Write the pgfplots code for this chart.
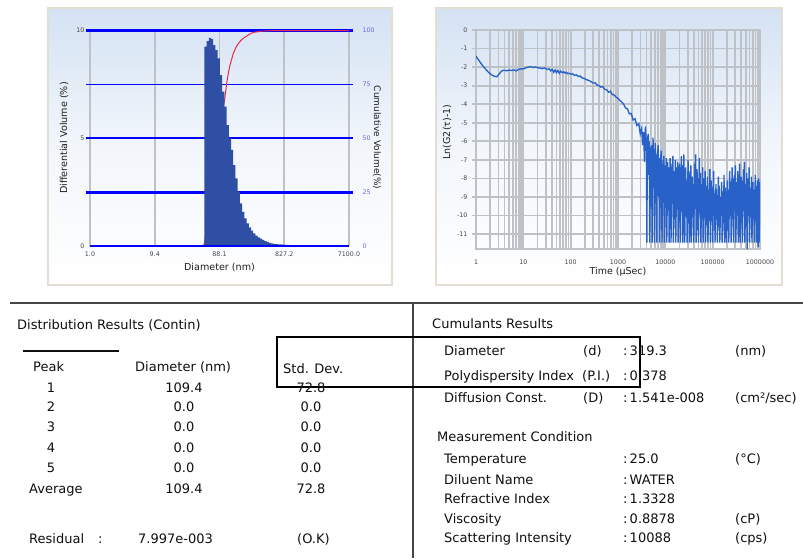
\documentclass[border=0pt]{standalone}
\usepackage{fontspec}
\setmainfont{DejaVu Sans}
\usepackage{pgfplots}
\pgfplotsset{compat=1.18}
\definecolor{barblue}{RGB}{47,79,165}
\definecolor{gridblue}{RGB}{0,0,255}
\definecolor{cumred}{RGB}{232,40,70}
\definecolor{lineblue}{RGB}{40,98,200}
\definecolor{gridgray}{RGB}{190,194,199}
\definecolor{framebg}{RGB}{212,226,243}
\definecolor{frameborder}{RGB}{226,223,210}
\definecolor{ticklab}{RGB}{70,70,70}
\definecolor{ticklabp}{RGB}{110,100,240}
\definecolor{labdark}{RGB}{30,30,30}
\definecolor{textdark}{RGB}{15,15,15}
\definecolor{sepgray}{RGB}{70,70,70}
\tikzset{t/.style={anchor=base west, inner sep=0pt, font=\fontsize{13}{15}\selectfont, text=textdark},
 tc/.style={anchor=base, inner sep=0pt, font=\fontsize{13}{15}\selectfont, text=textdark}}
\begin{document}
\begin{tikzpicture}[x=1pt,y=1pt]
\useasboundingbox (0,0) rectangle (803,558);
% frames
\shade[top color=framebg, bottom color=white, middle color=framebg!30!white] (48,273) rectangle (392,550);
\draw[frameborder, line width=2pt] (48,273) rectangle (392,550);
\shade[top color=framebg, bottom color=white, middle color=framebg!30!white] (436,273) rectangle (782,550);
\draw[frameborder, line width=2pt] (436,273) rectangle (782,550);

% ---------- left chart: grid + blue lines
\begin{axis}[at={(90pt,312pt)}, anchor=south west, scale only axis, width=259pt, height=215.3pt,
 xmin=0, xmax=4, ymin=0, ymax=10, clip=false,
 axis line style={draw=none}, tick style={draw=none},
 xtick={0,1,2,3,4}, xticklabels={1.0,9.4,88.1,827.2,7100.0}, ytick={0,5,10},
 xmajorgrids, major grid style={gridgray, line width=1.8pt},
 tick label style={font=\fontsize{6.3}{7}\selectfont, text=ticklab},
 xticklabel style={yshift=-2.5pt}, yticklabel style={xshift=-2pt},
 /pgf/number format/assume math mode=true,
 xlabel={Diameter (nm)}, ylabel={Differential Volume (\%)},
 label style={font=\fontsize{9.6}{11}\selectfont, text=labdark},
 xlabel style={at={(axis description cs:0.5,-0.0976)}, anchor=center},
 ylabel style={at={(axis description cs:-0.1004,0.5016)}, anchor=center}]
\draw[gridblue, line width=3.2pt] (axis cs:-0.06,10) -- (axis cs:4.06,10);
\draw[gridblue, line width=1.8pt] (axis cs:-0.06,7.5) -- (axis cs:4.06,7.5);
\draw[gridblue, line width=1.8pt] (axis cs:-0.06,5) -- (axis cs:4.06,5);
\draw[gridblue, line width=3.2pt] (axis cs:-0.06,2.5) -- (axis cs:4.06,2.5);
\end{axis}

% ---------- cumulative (right scale)
\begin{axis}[at={(90pt,312pt)}, anchor=south west, scale only axis, width=259pt, height=215.3pt,
 xmin=0, xmax=4, ymin=0, ymax=100, clip=false,
 hide x axis, axis y line*=right, axis line style={draw=none}, tick style={draw=none},
 ytick={0,25,50,75,100},
 yticklabel style={font=\fontsize{6.3}{7}\selectfont, text=ticklabp, xshift=10pt},
 /pgf/number format/assume math mode=true,
 ylabel={Cumulative Volume(\%)},
 ylabel style={font=\fontsize{9}{11}\selectfont, text=labdark, at={(axis description cs:1.108,0.504)}, anchor=center, rotate=180}]
\addplot[cumred, line width=1pt] coordinates {
(1.735,0) (1.765,0.8) (1.80,9) (1.827,15) (1.86,24) (1.905,35) (1.94,44) (1.982,52)
(2.01,57) (2.044,62) (2.075,67) (2.111,75.5) (2.135,80) (2.162,84) (2.19,87) (2.214,89.5)
(2.25,92) (2.291,94) (2.34,95.8) (2.394,97) (2.46,98.3) (2.522,99.2) (2.651,99.8) (2.80,100) (4,100)};
\end{axis}

% ---------- bars
\begin{axis}[at={(90pt,312pt)}, anchor=south west, scale only axis, width=259pt, height=215.3pt,
 xmin=0, xmax=4, ymin=0, ymax=10, hide axis, clip=false]
\addplot[fill=barblue, draw=none, const plot mark left] coordinates {
(1.7658,9.26) (1.8001,9.52) (1.8345,9.67) (1.8688,9.61) (1.9031,9.33) (1.9375,9.10)
(1.9718,8.72) (2.0061,7.94) (2.0404,7.17) (2.0748,6.47) (2.1091,5.62) (2.1434,5.00)
(2.1778,4.46) (2.2121,3.76) (2.2464,3.14) (2.2807,2.52) (2.3151,1.98) (2.3494,1.59)
(2.3837,1.28) (2.4181,1.05) (2.4524,0.87) (2.4867,0.71) (2.5210,0.59) (2.5554,0.48)
(2.5897,0.40) (2.6240,0.34) (2.6584,0.28) (2.6927,0.23) (2.7270,0.19) (2.7613,0.15)
(2.7957,0.12) (2.8300,0.10) (2.8643,0.09) (2.8987,0.08) (2.9330,0.07) (2.9673,0.06)
(3.0016,0.05) (3.0360,0.05) (3.0703,0.04) (3.1046,0.04) (3.1389,0.04)} \closedcycle;
\draw[gridblue, line width=1.4pt] (axis cs:0,0) -- (axis cs:4,0);
\end{axis}

% ---------- right chart
\begin{axis}[at={(476pt,309pt)}, anchor=south west, scale only axis, width=284pt, height=219pt,
 xmin=0, xmax=6, ymin=-11.8, ymax=0,
 xtick={0,1,2,3,4,5,6}, xticklabels={1,10,100,1000,10000,100000,1000000},
 minor xtick={0.301,0.477,0.602,0.699,0.778,0.845,0.903,0.954,
 1.301,1.477,1.602,1.699,1.778,1.845,1.903,1.954,
 2.301,2.477,2.602,2.699,2.778,2.845,2.903,2.954,
 3.301,3.477,3.602,3.699,3.778,3.845,3.903,3.954,
 4.301,4.477,4.602,4.699,4.778,4.845,4.903,4.954,
 5.301,5.477,5.602,5.699,5.778,5.845,5.903,5.954},
 ytick={-11,-10,-9,-8,-7,-6,-5,-4,-3,-2,-1,0},
 grid=both, major grid style={gridgray, line width=1.8pt}, minor grid style={gridgray, line width=1.8pt},
 axis line style={gridgray, line width=1.8pt},
 xtick style={draw=none}, minor tick length=0pt, ytick style={gridgray, line width=1.8pt},
 tick align=outside, major tick length=4pt, ytick pos=left, xtick pos=bottom,
 tick label style={font=\fontsize{6.3}{7}\selectfont, text=ticklab},
 xticklabel style={yshift=-3pt}, yticklabel style={xshift=-1pt},
 /pgf/number format/assume math mode=true,
 xlabel={Time (μSec)}, ylabel={Ln(G2(τ)-1)},
 label style={font=\fontsize{9.5}{11}\selectfont, text=labdark},
 xlabel style={at={(axis description cs:0.5,-0.105)}, anchor=center},
 ylabel style={at={(axis description cs:-0.102,0.534)}, anchor=center}]
\addplot[lineblue, line width=1.35pt] coordinates {
(0.000,-1.42) (0.05,-1.60) (0.10,-1.78) (0.15,-1.95) (0.20,-2.10) (0.25,-2.24) (0.30,-2.36)
(0.35,-2.45) (0.40,-2.50) (0.44,-2.52) (0.48,-2.40) (0.52,-2.27) (0.56,-2.18) (0.60,-2.17)
(0.65,-2.20) (0.70,-2.16) (0.75,-2.18) (0.80,-2.15) (0.85,-2.20) (0.90,-2.12) (0.95,-2.09)
(1.00,-2.10) (1.05,-2.04) (1.10,-2.00) (1.15,-1.97) (1.20,-2.02) (1.25,-1.99) (1.30,-2.03)
(1.35,-2.05) (1.40,-2.08) (1.45,-2.04) (1.50,-2.12) (1.55,-2.10) (1.58,-2.20) (1.61,-2.12)
(1.64,-2.28) (1.67,-2.15) (1.70,-2.30) (1.73,-2.18) (1.76,-2.33) (1.79,-2.22) (1.82,-2.30)
(1.85,-2.25) (1.88,-2.32) (1.91,-2.28) (1.94,-2.36) (1.97,-2.33) (2.00,-2.38) (2.04,-2.36)
(2.08,-2.44) (2.12,-2.42) (2.16,-2.50) (2.20,-2.48) (2.24,-2.58) (2.28,-2.60) (2.32,-2.66)
(2.36,-2.70) (2.40,-2.74) (2.44,-2.80) (2.48,-2.86) (2.52,-2.85) (2.56,-2.97) (2.60,-3.00)
(2.64,-3.08) (2.68,-3.05) (2.72,-3.20) (2.76,-3.22) (2.80,-3.35) (2.84,-3.30) (2.88,-3.48)
(2.92,-3.50) (2.96,-3.62) (3.00,-3.68) (3.04,-3.80) (3.08,-3.88) (3.12,-4.00) (3.16,-4.20)
(3.20,-4.25) (3.24,-4.52) (3.28,-4.50) (3.32,-4.85) (3.36,-4.78) (3.40,-5.15) (3.44,-5.05)
(3.47,-5.60) (3.50,-5.30) (3.52,-6.20) (3.54,-5.50) (3.56,-7.10) (3.58,-5.20) (3.60,-6.30)
(3.61,-11.45) (3.62,-5.90) (3.64,-5.60) (3.65,-7.80) (3.66,-6.00) (3.67,-11.45) (3.69,-6.30)
(3.70,-8.00) (3.71,-6.20) (3.72,-11.45) (3.74,-5.80) (3.75,-7.20) (3.76,-6.40) (3.77,-11.45)
(3.79,-6.10) (3.80,-7.90) (3.81,-6.70) (3.82,-11.45) (3.83,-6.80) (3.85,-6.20) (3.86,-9.00)
(3.87,-6.90) (3.88,-11.45) (3.90,-7.20) (3.91,-6.50) (3.92,-8.50) (3.93,-11.45) (3.95,-7.00)
(3.96,-7.80) (3.97,-6.80) (3.98,-11.45) (4.00,-7.30) (4.01,-8.80) (4.02,-6.90) (4.03,-11.45)
(4.05,-7.10) (4.06,-9.50) (4.07,-7.40) (4.08,-11.45) (4.10,-6.90) (4.11,-7.80) (4.12,-11.45)
(4.14,-7.20) (4.15,-9.20) (4.16,-6.80) (4.17,-11.45) (4.19,-7.60) (4.20,-10.20) (4.21,-7.00)
(4.22,-11.45) (4.24,-7.40) (4.25,-8.90) (4.26,-7.10) (4.27,-11.45) (4.29,-7.80) (4.30,-7.20)
(4.31,-9.80) (4.32,-11.45) (4.34,-6.80) (4.35,-8.40) (4.36,-7.30) (4.37,-11.45) (4.39,-6.70)
(4.40,-8.10) (4.41,-11.45) (4.43,-7.40) (4.44,-9.60) (4.45,-8.10) (4.46,-11.45) (4.48,-7.00)
(4.49,-10.40) (4.50,-7.60) (4.51,-11.45) (4.53,-8.20) (4.54,-7.30) (4.55,-11.45) (4.57,-7.90)
(4.58,-10.10) (4.59,-8.30) (4.60,-11.45) (4.62,-7.20) (4.63,-9.40) (4.64,-6.70) (4.65,-11.45)
(4.67,-7.50) (4.68,-10.80) (4.69,-8.00) (4.70,-11.45) (4.72,-6.90) (4.73,-9.90) (4.74,-7.70)
(4.75,-11.45) (4.77,-8.30) (4.78,-10.20) (4.79,-7.40) (4.80,-11.45) (4.82,-8.00) (4.83,-9.70)
(4.84,-7.60) (4.85,-11.45) (4.87,-8.40) (4.88,-10.50) (4.89,-7.90) (4.90,-11.45) (4.92,-8.60)
(4.93,-9.90) (4.94,-7.50) (4.95,-11.45) (4.97,-8.10) (4.98,-10.30) (4.99,-8.50) (5.00,-11.45)
(5.02,-7.60) (5.03,-10.00) (5.04,-8.80) (5.05,-11.45) (5.07,-8.30) (5.08,-9.80) (5.09,-8.90)
(5.10,-11.45) (5.12,-7.90) (5.13,-10.60) (5.14,-8.40) (5.15,-11.45) (5.17,-9.00) (5.18,-10.00)
(5.19,-8.20) (5.20,-11.45) (5.22,-8.70) (5.23,-10.40) (5.24,-7.80) (5.25,-11.45) (5.27,-8.50)
(5.28,-9.90) (5.29,-11.45) (5.31,-8.10) (5.32,-10.80) (5.33,-8.60) (5.34,-11.45) (5.36,-7.60)
(5.37,-9.50) (5.38,-8.20) (5.39,-11.45) (5.41,-7.40) (5.42,-10.20) (5.43,-8.00) (5.44,-11.45)
(5.46,-7.80) (5.47,-9.30) (5.48,-7.30) (5.49,-11.45) (5.51,-8.20) (5.52,-10.00) (5.53,-7.60)
(5.54,-11.45) (5.56,-8.40) (5.57,-7.20) (5.58,-11.45) (5.60,-7.90) (5.61,-10.40) (5.62,-8.10)
(5.63,-11.45) (5.65,-7.50) (5.66,-9.60) (5.67,-7.10) (5.68,-11.45) (5.70,-8.30) (5.71,-10.60)
(5.72,-7.70) (5.73,-11.80) (5.75,-8.00) (5.76,-9.80) (5.77,-7.40) (5.78,-11.45) (5.80,-8.50)
(5.81,-10.10) (5.82,-7.90) (5.83,-11.45) (5.85,-8.20) (5.86,-9.70) (5.87,-8.60) (5.88,-11.45)
(5.90,-7.80) (5.91,-10.30) (5.92,-8.40) (5.93,-11.45) (5.95,-8.10) (5.96,-11.70) (5.97,-8.00)
(5.98,-11.45) (6.00,-8.20)};
\end{axis}

% ---------- separators and box
\draw[sepgray, line width=1.8pt] (10,255) -- (803,255);
\draw[sepgray, line width=1.8pt] (413,255) -- (413,0);
\draw[textdark, line width=1.2pt] (23,207) -- (119,207);
\draw[black, line width=1.8pt] (277,221) rectangle (640,171);

% ---------- left text
\node[t] at (17,228.5) {Distribution Results (Contin)};
\node[t] at (33,186.5) {Peak};
\node[t] at (135,186.5) {Diameter (nm)};
\node[t] at (283,184.5) {Std. Dev.};
\node[tc] at (51,165.5) {1};
\node[tc] at (51,146.5) {2};
\node[tc] at (51,126.5) {3};
\node[tc] at (51,105.5) {4};
\node[tc] at (51,85.5) {5};
\node[t] at (29,64.5) {Average};
\node[tc] at (184,165.5) {109.4};
\node[tc] at (184,146.5) {0.0};
\node[tc] at (184,126.5) {0.0};
\node[tc] at (184,105.5) {0.0};
\node[tc] at (184,85.5) {0.0};
\node[tc] at (184,64.5) {109.4};
\node[tc] at (311,165.5) {72.8};
\node[tc] at (311,146.5) {0.0};
\node[tc] at (311,126.5) {0.0};
\node[tc] at (311,105.5) {0.0};
\node[tc] at (311,85.5) {0.0};
\node[tc] at (311,64.5) {72.8};
\node[t] at (29,14.5) {Residual};
\node[t] at (98,14.5) {:};
\node[t] at (138,14.5) {7.997e-003};
\node[t] at (297,14.5) {(O.K)};

% ---------- right text
\node[t] at (432,229.5) {Cumulants Results};
\node[t] at (444,202.5) {Diameter};
\node[t] at (583,202.5) {(d)};
\node[t] at (623,202.5) {:\,319.3};
\node[t] at (735,202.5) {(nm)};
\node[t] at (444,177.5) {Polydispersity Index};
\node[t] at (582,177.5) {(P.I.)};
\node[t] at (623,177.5) {:\,0.378};
\node[t] at (444,155.5) {Diffusion Const.};
\node[t] at (583,155.5) {(D)};
\node[t] at (623,155.5) {:\,1.541e-008};
\node[t] at (735,155.5) {(cm²/sec)};
\node[t] at (437,116.5) {Measurement Condition};
\node[t] at (444,94.5) {Temperature};
\node[t] at (623,94.5) {:\,25.0};
\node[t] at (735,94.5) {(°C)};
\node[t] at (444,73.5) {Diluent Name};
\node[t] at (623,73.5) {:\,WATER};
\node[t] at (444,54.5) {Refractive Index};
\node[t] at (623,54.5) {:\,1.3328};
\node[t] at (444,34.5) {Viscosity};
\node[t] at (623,34.5) {:\,0.8878};
\node[t] at (735,34.5) {(cP)};
\node[t] at (444,15.5) {Scattering Intensity};
\node[t] at (623,15.5) {:\,10088};
\node[t] at (735,15.5) {(cps)};
\end{tikzpicture}
\end{document}
